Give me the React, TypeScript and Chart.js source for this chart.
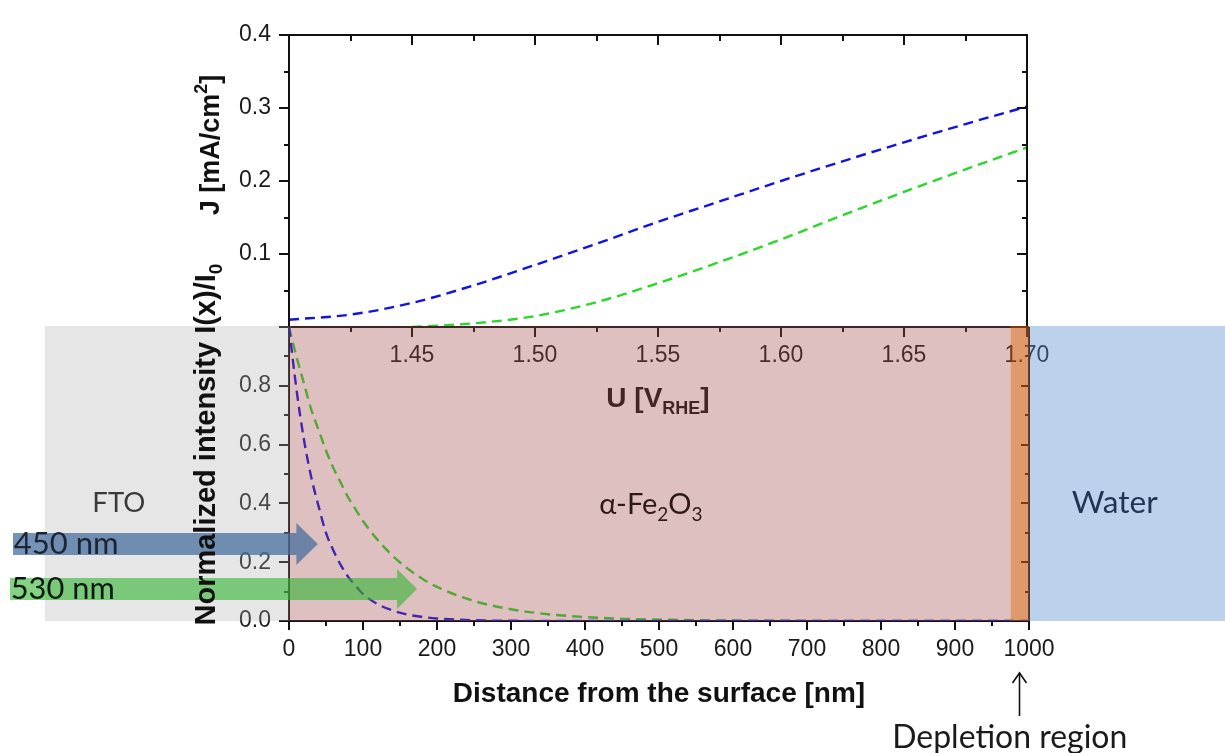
import React, { useEffect, useRef } from "react";
import { Chart, registerables } from "chart.js";

Chart.register(...registerables);

// ---------- Top panel: photocurrent J [mA/cm2] vs potential U [V_RHE] ----------
const U_450 = [1.4, 1.425, 1.45, 1.475, 1.5, 1.525, 1.55, 1.575, 1.6, 1.625, 1.65, 1.675, 1.7];
const J_450 = [0.01, 0.017, 0.033, 0.057, 0.085, 0.114, 0.144, 0.172, 0.2, 0.227, 0.253, 0.278, 0.302];
const U_530 = [1.45, 1.475, 1.5, 1.525, 1.55, 1.575, 1.6, 1.625, 1.65, 1.675, 1.7];
const J_530 = [0.0, 0.005, 0.015, 0.034, 0.06, 0.089, 0.12, 0.153, 0.185, 0.216, 0.246];

const U_TICKS = [1.4, 1.45, 1.5, 1.55, 1.6, 1.65, 1.7];
const U_TICK_LABELS = ["", "1.45", "1.50", "1.55", "1.60", "1.65", "1.70"];
const U_MINOR = [1.425, 1.475, 1.525, 1.575, 1.625, 1.675];
const J_TICKS = [0, 0.1, 0.2, 0.3, 0.4];
const J_TICK_LABELS = ["", "0.1", "0.2", "0.3", "0.4"];
const J_MINOR = [0.05, 0.15, 0.25, 0.35];

// ---------- Bottom panel: normalized intensity vs distance from surface ----------
const DEPTH_NM = [0, 10, 20, 30, 40, 50, 60, 70, 80, 90, 100, 120, 140, 160, 180, 200, 250, 300, 350, 400, 450, 500, 600, 700, 800, 900, 1000];
const I_450 = [1.0, 0.79, 0.62, 0.49, 0.39, 0.3, 0.24, 0.19, 0.15, 0.12, 0.092, 0.057, 0.036, 0.022, 0.014, 0.0086, 0.0026, 0.0008, 0.0002, 0.0001, 0, 0, 0, 0, 0, 0, 0];
const I_530 = [1.0, 0.9, 0.81, 0.72, 0.65, 0.58, 0.52, 0.47, 0.42, 0.38, 0.34, 0.275, 0.222, 0.179, 0.144, 0.116, 0.068, 0.04, 0.023, 0.0135, 0.008, 0.0046, 0.0016, 0.0005, 0.0002, 0.0001, 0];

const DEPTH_TICKS = [0, 100, 200, 300, 400, 500, 600, 700, 800, 900, 1000];
const DEPTH_TICK_LABELS = ["0", "100", "200", "300", "400", "500", "600", "700", "800", "900", "1000"];
const DEPTH_MINOR = [50, 150, 250, 350, 450, 550, 650, 750, 850, 950];
const I_TICKS = [0, 0.2, 0.4, 0.6, 0.8, 1.0];
const I_TICK_LABELS = ["0.0", "0.2", "0.4", "0.6", "0.8", ""];
const I_MINOR = [0.1, 0.3, 0.5, 0.7, 0.9];

// Regions (nm): FTO | alpha-Fe2O3 | depletion region | water
const REGION_EDGES_NM = [-330, 0, 975, 1000, 1265];
const REGION_NAMES = ["FTO", "α-Fe2O3", "", "Water"];

// ---------- styles ----------
const W = 1225;
const H = 753;
const AXIS_FONT = '"Liberation Sans", Arial, Helvetica, sans-serif';
const NOTE_FONT = 'Lato, "Open Sans", "Noto Sans", sans-serif';
const AXIS_COLOR = "#111111";
const TICK_COLOR = "#1a1a1a";
const BLUE = "#1212e6";
const GREEN = "#2ad82a";
const REGION_FILLS = [
  "rgba(171,171,171,0.30)",
  "rgba(164,75,75,0.35)",
  "rgba(200,85,10,0.60)",
  "rgba(88,140,207,0.40)",
];

type Part = { t: string; sub?: boolean; sup?: boolean };

function drawRich(ctx: CanvasRenderingContext2D, parts: Part[], x: number, y: number, align: "left" | "center", size: number, weight: string, family: string, color: string) {
  const fontFor = (p: Part) => `${weight} ${p.sub || p.sup ? Math.round(size * 0.65) : size}px ${family}`;
  let total = 0;
  const widths = parts.map((p) => {
    ctx.font = fontFor(p);
    const w = ctx.measureText(p.t).width;
    total += w;
    return w;
  });
  let sx = align === "center" ? x - total / 2 : x;
  ctx.fillStyle = color;
  ctx.textAlign = "left";
  ctx.textBaseline = "alphabetic";
  parts.forEach((p, i) => {
    ctx.font = fontFor(p);
    const dy = p.sub ? size * 0.24 : p.sup ? -size * 0.42 : 0;
    ctx.fillText(p.t, sx, y + dy);
    sx += widths[i];
  });
}

function drawRotated(ctx: CanvasRenderingContext2D, parts: Part[], xc: number, yc: number, size: number) {
  ctx.save();
  ctx.translate(xc + size * 0.36, yc);
  ctx.rotate(-Math.PI / 2);
  drawRich(ctx, parts, 0, 0, "center", size, "bold", AXIS_FONT, "#111");
  ctx.restore();
}

function fitSize(ctx: CanvasRenderingContext2D, text: string, family: string, width: number) {
  ctx.font = `100px ${family}`;
  return (100 * width) / ctx.measureText(text).width;
}

function seg(ctx: CanvasRenderingContext2D, x1: number, y1: number, x2: number, y2: number) {
  ctx.beginPath();
  ctx.moveTo(x1, y1);
  ctx.lineTo(x2, y2);
  ctx.stroke();
}

function ticksOn(ctx: CanvasRenderingContext2D, scale: any, values: number[], at: number, dir: number, len: number) {
  values.forEach((v) => {
    const p = Math.round(scale.getPixelForValue(v));
    if (scale.isHorizontal()) seg(ctx, p, at, p, at + dir * len);
    else seg(ctx, at, p, at + dir * len, p);
  });
}

function axisOpts(min: number, max: number, ticks: number[], labels: string[], pos: "bottom" | "left", size: number, padding: number) {
  return {
    type: "linear" as const,
    position: pos,
    min,
    max,
    afterBuildTicks: (s: any) => {
      s.ticks = ticks.map((v) => ({ value: v }));
    },
    afterFit: (s: any) => {
      if (pos === "bottom") s.height = size;
      else s.width = size;
    },
    grid: { display: false, drawTicks: false },
    border: { display: false },
    ticks: {
      autoSkip: false,
      maxRotation: 0,
      padding,
      color: TICK_COLOR,
      font: { family: AXIS_FONT, size: 23 },
      callback: (_v: any, i: number) => labels[i],
    },
  };
}

const topFrame = {
  id: "topFrame",
  afterDraw(chart: any) {
    const { ctx, chartArea, scales } = chart;
    const { left, right, top, bottom } = chartArea;
    const x = scales.x;
    const y = scales.y;
    ctx.save();
    ctx.strokeStyle = AXIS_COLOR;
    ctx.lineWidth = 2;
    ctx.strokeRect(left, top, right - left, bottom - top);
    ticksOn(ctx, x, U_TICKS, bottom, 1, 10);
    ticksOn(ctx, x, U_MINOR, bottom, 1, 5);
    ticksOn(ctx, x, U_TICKS, top, 1, 10);
    ticksOn(ctx, x, U_MINOR, top, 1, 6);
    ticksOn(ctx, y, J_TICKS, left, -1, 10);
    ticksOn(ctx, y, J_MINOR, left, -1, 5);
    ticksOn(ctx, y, J_TICKS, right, -1, 10);
    ticksOn(ctx, y, J_MINOR, right, -1, 5);
    drawRotated(ctx, [{ t: "J [mA/cm" }, { t: "2", sup: true }, { t: "]" }], left - 80, top + 110, 27);
    drawRich(ctx, [{ t: "U [V" }, { t: "RHE", sub: true }, { t: "]" }], (left + right) / 2, bottom + 80, "center", 28, "bold", AXIS_FONT, "#111");
    ctx.restore();
  },
};

const bottomFrame = {
  id: "bottomFrame",
  beforeDatasetsDraw(chart: any) {
    const { ctx, chartArea, scales } = chart;
    const { left, right, top, bottom } = chartArea;
    ctx.save();
    ctx.strokeStyle = AXIS_COLOR;
    ctx.lineWidth = 2;
    seg(ctx, left, top, left, bottom + 1);
    seg(ctx, right, top, right, bottom + 1);
    seg(ctx, left - 1, bottom, right + 1, bottom);
    ticksOn(ctx, scales.x, DEPTH_TICKS, bottom, 1, 9);
    ticksOn(ctx, scales.x, DEPTH_MINOR, bottom, 1, 5);
    ticksOn(ctx, scales.y, I_TICKS, left, -1, 10);
    ticksOn(ctx, scales.y, I_MINOR, left, -1, 5);
    ticksOn(ctx, scales.y, I_TICKS, right, -1, 8);
    ticksOn(ctx, scales.y, I_MINOR, right, -1, 4);
    ctx.restore();
  },
  afterDatasetsDraw(chart: any) {
    const { ctx, chartArea, scales } = chart;
    const yTop = chartArea.top - 1;
    const yBot = chartArea.bottom;
    ctx.save();
    for (let i = 0; i < REGION_NAMES.length; i++) {
      const x0 = scales.x.getPixelForValue(REGION_EDGES_NM[i]);
      const x1 = scales.x.getPixelForValue(REGION_EDGES_NM[i + 1]);
      ctx.fillStyle = REGION_FILLS[i];
      ctx.fillRect(x0, yTop, x1 - x0, yBot - yTop);
    }
    ctx.restore();
  },
  afterDraw(chart: any) {
    const { ctx, chartArea, scales } = chart;
    const px = (v: number) => scales.x.getPixelForValue(v);
    const py = (v: number) => scales.y.getPixelForValue(v);
    ctx.save();

    // light-input arrows
    const arrow = (fromNm: number, headNm: number, tipNm: number, val: number, sh: number, hh: number, color: string) => {
      const x0 = px(fromNm), xh = px(headNm), x1 = px(tipNm), cy = py(val);
      ctx.beginPath();
      ctx.moveTo(x0, cy - sh);
      ctx.lineTo(xh, cy - sh);
      ctx.lineTo(xh, cy - hh);
      ctx.lineTo(x1, cy);
      ctx.lineTo(xh, cy + hh);
      ctx.lineTo(xh, cy + sh);
      ctx.lineTo(x0, cy + sh);
      ctx.closePath();
      ctx.fillStyle = color;
      ctx.fill();
    };
    arrow(-373, 10, 39, 0.262, 11, 21, "rgba(71,111,158,0.75)");
    arrow(-377, 146, 173, 0.109, 11, 20, "rgba(50,180,50,0.60)");

    // region / wavelength notes
    const note = (text: string, cx: number, baseline: number, width: number, color: string, align: "left" | "center") => {
      const s = fitSize(ctx, text, NOTE_FONT, width);
      drawRich(ctx, [{ t: text }], cx, baseline, align, s, "normal", NOTE_FONT, color);
    };
    const midY = py(0.405);
    note(REGION_NAMES[0], px(-230), midY + 10, 53, "#3a3a3a", "center");
    note(REGION_NAMES[3], px(1116), midY + 11, 86, "#1f3554", "center");
    {
      const parts: Part[] = [{ t: "α-Fe" }, { t: "2", sub: true }, { t: "O" }, { t: "3", sub: true }];
      drawRich(ctx, parts, px(489), midY + 12, "center", 29, "normal", NOTE_FONT, "#2e1818");
    }
    note("450 nm", px(-372), py(0.262) + 10, 105, "#1b2535", "left");
    note("530 nm", px(-376), py(0.109) + 10, 104, "#0e1a0e", "left");

    // depletion region pointer
    const dx = Math.round(px(986)) + 0.5;
    const b = chartArea.bottom;
    ctx.strokeStyle = "#111";
    ctx.lineWidth = 1.6;
    seg(ctx, dx, b + 95, dx, b + 52);
    ctx.beginPath();
    ctx.moveTo(dx - 7, b + 62);
    ctx.lineTo(dx, b + 52);
    ctx.lineTo(dx + 7, b + 62);
    ctx.stroke();
    note("Depletion region", px(974), b + 127, 235, "#1a1a1a", "center");

    // axis titles
    drawRich(ctx, [{ t: "Distance from the surface [nm]" }], (chartArea.left + chartArea.right) / 2, b + 81, "center", 28, "bold", AXIS_FONT, "#111");
    drawRotated(ctx, [{ t: "Normalized intensity I(x)/I" }, { t: "0", sub: true }], chartArea.left - 84, py(0.6), 29);
    ctx.restore();
  },
};

export default function App() {
  const topRef = useRef<HTMLCanvasElement>(null);
  const botRef = useRef<HTMLCanvasElement>(null);

  useEffect(() => {
    const common = {
      responsive: false,
      animation: false as const,
      devicePixelRatio: 1,
      events: [] as any[],
      plugins: { legend: { display: false }, tooltip: { enabled: false } },
    };
    const dash = { borderDash: [10, 6], borderWidth: 2.4, pointRadius: 0, fill: false, cubicInterpolationMode: "monotone" as const };

    const top = new Chart(topRef.current!, {
      type: "line",
      data: {
        datasets: [
          { data: U_450.map((u, i) => ({ x: u, y: J_450[i] })), borderColor: BLUE, ...dash },
          { data: U_530.map((u, i) => ({ x: u, y: J_530[i] })), borderColor: GREEN, ...dash },
        ],
      },
      options: {
        ...common,
        layout: { padding: { left: 0, top: 35, right: W - 1027, bottom: H - 327 - 40 } },
        scales: {
          x: axisOpts(1.4, 1.7, U_TICKS, U_TICK_LABELS, "bottom", 40, 15),
          y: axisOpts(0, 0.4, J_TICKS, J_TICK_LABELS, "left", 289, 18),
        },
      } as any,
      plugins: [topFrame],
    });

    const bot = new Chart(botRef.current!, {
      type: "line",
      data: {
        datasets: [
          { data: DEPTH_NM.map((d, i) => ({ x: d, y: I_450[i] })), borderColor: BLUE, ...dash },
          { data: DEPTH_NM.map((d, i) => ({ x: d, y: I_530[i] })), borderColor: GREEN, ...dash },
        ],
      },
      options: {
        ...common,
        layout: { padding: { left: 0, top: 327, right: W - 1029, bottom: H - 621 - 60 } },
        scales: {
          x: axisOpts(0, 1000, DEPTH_TICKS, DEPTH_TICK_LABELS, "bottom", 60, 15),
          y: axisOpts(0, 1, I_TICKS, I_TICK_LABELS, "left", 289, 18),
        },
      } as any,
      plugins: [bottomFrame],
    });

    return () => {
      top.destroy();
      bot.destroy();
    };
  }, []);

  const cs: React.CSSProperties = { position: "absolute", left: 0, top: 0, width: W, height: H };
  return (
    <div style={{ position: "absolute", left: 0, top: 0, width: W, height: H, background: "#ffffff", overflow: "hidden" }}>
      <canvas ref={topRef} width={W} height={H} style={cs} />
      <canvas ref={botRef} width={W} height={H} style={cs} />
    </div>
  );
}
